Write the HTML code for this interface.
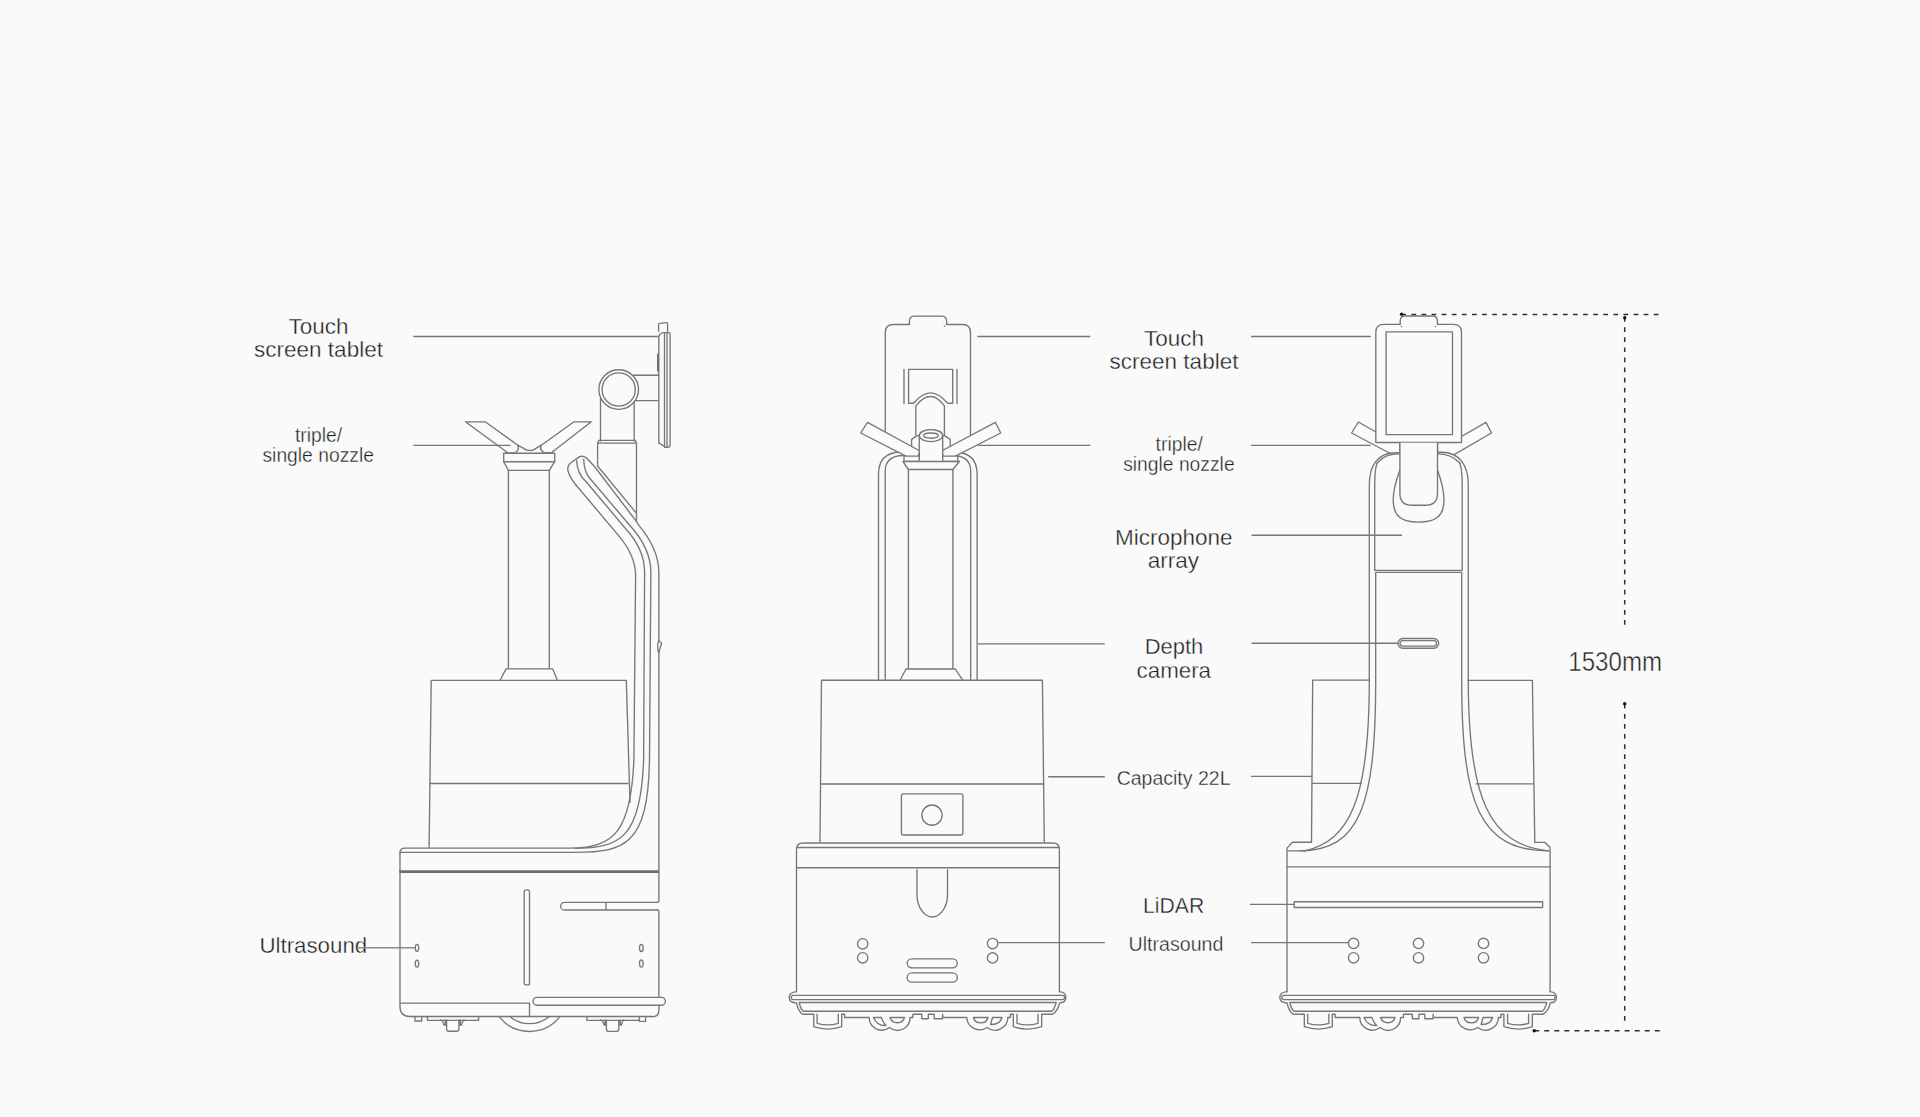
<!DOCTYPE html>
<html><head><meta charset="utf-8">
<style>
html,body{margin:0;padding:0;background:#fafafa;width:1920px;height:1117px;overflow:hidden}
svg{display:block;position:absolute;left:0;top:0}
.s{fill:none;stroke:#777;stroke-width:1.35;stroke-linejoin:round;stroke-linecap:round}
.f{fill:#fafafa;stroke:#777;stroke-width:1.35;stroke-linejoin:round}
.ld{fill:none;stroke:#777;stroke-width:1.35}
.t{font-family:"Liberation Sans",sans-serif;fill:#1e1e1e;text-anchor:middle;stroke:#fafafa;stroke-width:0.35}
.dash{fill:none;stroke:#2f2f2f;stroke-width:1.5}
</style></head>
<body>
<svg width="1920" height="1117" viewBox="0 0 1920 1117">
<!-- LABELS -->
<g class="t">
<text x="318.5" y="334" font-size="22.5">Touch</text>
<text x="318.5" y="357.3" font-size="22.5">screen tablet</text>
<text x="318.5" y="441.8" font-size="19.3">triple/</text>
<text x="318.2" y="461.9" font-size="19.3">single nozzle</text>
<text x="313.3" y="953.3" font-size="22.3">Ultrasound</text>

<text x="1174" y="346.2" font-size="22.5">Touch</text>
<text x="1174" y="369.4" font-size="22.5">screen tablet</text>
<text x="1179.2" y="450.6" font-size="19.3">triple/</text>
<text x="1178.9" y="471.1" font-size="19.3">single nozzle</text>
<text x="1173.8" y="544.6" font-size="22.5">Microphone</text>
<text x="1173.5" y="567.7" font-size="22.5">array</text>
<text x="1174" y="654.2" font-size="22">Depth</text>
<text x="1173.8" y="677.6" font-size="22.3">camera</text>
<text x="1173.6" y="785.1" font-size="19.5">Capacity 22L</text>
<text x="1173.7" y="913.1" font-size="21.2">LiDAR</text>
<text x="1176" y="950.5" font-size="19.6">Ultrasound</text>
</g>
<text x="1568.3" y="670.9" font-size="28.2" style="font-family:'Liberation Sans',sans-serif;fill:#222;stroke:#fafafa;stroke-width:0.5" transform="translate(1568.3 0) scale(0.855 1) translate(-1568.3 0)">1530mm</text>

<!-- DIMENSION -->
<g class="dash">
<path d="M1401.3 314.4H1658.5" stroke-dasharray="4.7 5.4"/>
<path d="M1624.7 317.1V625" stroke-dasharray="4.7 5.4"/>
<path d="M1624.7 703.9V1021" stroke-dasharray="4.7 5.37"/>
<path d="M1534.2 1030.8H1660" stroke-dasharray="5 5.05"/>
</g>
<g fill="#111">
<circle cx="1401.6" cy="314.3" r="1.7"/>
<circle cx="1624.7" cy="317.7" r="1.7"/>
<circle cx="1624.7" cy="703.7" r="1.7"/>
<circle cx="1534.2" cy="1030.8" r="1.7"/>
</g>

<!-- ROBOTS inserted below -->
<g id="left">
<!-- tank -->
<path class="s" d="M429.1 847.7L431.2 680.3H626.3L630 802.4"/>
<path class="s" d="M430 783.5H628"/>
<!-- tube & collar -->
<path class="s" d="M508.4 470.4V668.9M549.3 470.4V668.9M506 668.9H552.7M506 668.9L500.1 680.3M552.7 668.9L557.4 680.3"/>
<!-- nozzle arms -->
<path class="f" d="M465.4 421.8H485.2L517.8 445.2Q520 450 514.4 453L508.4 453.2Z"/>
<path class="f" d="M591.3 421.8H574L541.3 445.2Q539 450 544.5 452.8L552 452.3Z"/>
<path class="s" d="M517.8 445.2L527.2 450.3H532.6L541.3 445.2"/>
<path class="f" d="M503.7 453.2H554.7V461.7L549.3 470.4H508.4L503.7 461.7Z"/>
<path class="s" d="M503.7 461.7H554.7"/>
<!-- post -->
<path class="s" d="M597.6 443.1V466M636.5 443.1V521M597.6 466L636.5 513.4"/>
<path class="s" d="M597.6 443.1H636.5M599 440.3H635.2M597.6 443.1L599 440.3M636.5 443.1L635.2 440.3"/>
<path class="s" d="M600.5 441V398.5M634.2 441V398.5"/>
<!-- arm to tablet -->
<path class="s" d="M633 375.2H658.8M632 400.6H658.8"/>
<circle class="f" cx="618.7" cy="389.5" r="19.8"/>
<circle class="s" cx="618.7" cy="389.5" r="16.6"/>
<!-- tablet -->
<path class="s" d="M658.6 331.3V324.2Q658.6 323.5 660 323.4L666.4 322.7Q667.6 322.6 667.6 324V331.3"/>
<path class="f" d="M658.8 337Q659.5 333 663.2 332.6H669Q670.1 332.6 670.1 334.2V444.4Q670.1 447.3 667.5 447.3H665.7L658.8 442.9Z"/>
<path class="s" d="M664.5 332.8V447.2M667 332.8V447.2"/>
<path d="M657 354Q657 353.6 657.6 353.6H659V371.6H657.6Q657 371.6 657 371.2Z" fill="#707070"/>
<!-- hose -->
<path class="s" d="M576 485Q570 478 568 471Q567 466 570.5 463L579.7 456.6Q583 455.6 586.3 457.8"/>
<path class="s" d="M576 485L618.6 535.6Q635.6 555.6 635.6 575.6L633.9 760C631 830 615 848.1 570 848.1H405Q400 848.1 400 852.9"/>
<path class="s" d="M576.6 460.6Q577.5 474 585.5 481L625 528Q644.6 549.2 644.6 572L643.6 760C641 838 620 848.3 575 848.3"/>
<path class="s" d="M583.7 459.2Q584 471 589.5 478L629 524.5Q650.85 548.1 650.85 572L649.5 760C648 845 625 852.4 575 852.4H400"/>
<path class="s" d="M586.3 457.8L594.9 467L636.5 521.5L638.5 524.9Q658.9 549 658.9 573V900.8Q658.9 902.3 657.4 902.3"/>
<path class="s" d="M657.4 910Q658.9 910 658.9 911.5V1010.4Q658.9 1016.7 652 1016.7"/>
<path class="f" d="M658.6 640.7L661.6 643.2L658.6 652.9Q656.7 646 658.6 640.7Z"/>
<!-- base -->
<path class="s" d="M400 852.9V1006.5Q400 1016.5 410 1016.5H652"/>
<path d="M399.3 871.6H658.9" stroke="#6e6e6e" stroke-width="2.8"/>
<path class="s" d="M657.4 902.3H564.5A3.85 3.85 0 0 0 564.5 910H657.4M606 902.3V910"/>
<rect class="s" x="524.2" y="889.8" width="5.3" height="95.1" rx="2"/>
<ellipse class="s" cx="417" cy="947.8" rx="1.7" ry="3.5"/>
<ellipse class="s" cx="417" cy="963.6" rx="1.7" ry="3.5"/>
<ellipse class="s" cx="641.3" cy="947.9" rx="1.8" ry="3.6"/>
<ellipse class="s" cx="641.3" cy="963.5" rx="1.8" ry="3.6"/>
<path class="s" d="M400 1003.1H529.5V1016.5"/>
<rect class="f" x="533.1" y="997.4" width="132.3" height="7.8" rx="3.9"/>
<!-- wheel -->
<path class="s" d="M499.1 1016.7A38.7 38.7 0 0 0 559.9 1016.7M509.9 1016.7A31 31 0 0 0 549.1 1016.7"/>
<!-- feet -->
<path class="s" d="M415 1017V1021H421.7V1017M427.4 1017V1020.3H478.6V1017"/>
<path class="s" d="M440.6 1019.8Q443 1020.5 443.9 1025H446.6V1029Q446.6 1031.2 449 1031.2H456.5Q458.9 1031.2 458.9 1029V1025H461.6Q462.5 1020.5 464 1019.8M445.2 1020V1025M446.6 1020V1025M458.9 1020V1025M460.3 1020V1025"/>
<path class="s" d="M586.8 1017.2V1020.3H639.4V1017.2M639.4 1017.2V1021.4H645.6V1017.2"/>
<path class="s" d="M600.6 1019.9Q603 1020.5 604 1025H606.4V1029Q606.4 1031.4 608.8 1031.4H616.4Q618.8 1031.4 618.8 1029V1025H621.4Q622.4 1020.5 624 1019.9M605 1020.2V1025M606.4 1020.2V1025M618.8 1020.2V1025M620.2 1020.2V1025"/>
</g>
<g id="mid">
<!-- tablet -->
<path class="s" d="M885.3 440V332.5Q885.3 324.5 893.3 324.5H909.4V321.1Q909.4 316.1 914.4 316.1H941.6Q946.6 316.1 946.6 321.1V324.5H962.5Q970.5 324.5 970.5 332.5V440"/>
<circle cx="944.4" cy="326" r="0.8" fill="#777"/>
<path class="s" d="M908.6 403.2V369.4H952.7V403.2H947.4Q930.7 382.5 913.6 403.2Z"/>
<path class="s" d="M904 369.4V403.5M957 369.4V403.5" stroke-width="1.6"/>
<path class="s" d="M915.8 434.8V405.9Q930.7 387 944.4 405.9V434.8"/>
<!-- body loops -->
<path class="s" d="M878.5 680.2V474.4Q878.5 453 900 452M885.2 680.2V471.2Q885.2 456 903 455.5"/>
<path class="s" d="M977.1 680.2V474.4Q977.1 453 955.6 452M970.7 680.2V471.2Q970.7 456 952.9 455.5"/>
<!-- tube -->
<path class="s" d="M908.4 469.5V669M952.9 469.5V669M906 669H955.3M906 669L900 680.2M955.3 669L962.7 680.2"/>
<!-- arms -->
<path class="f" d="M911.6 460.7V439.4L917 435.6H944.4L950.2 439.4V460.7Z"/>
<path class="f" d="M867.5 422.3L860.7 433L916.2 461.4L920 451Z"/>
<path class="f" d="M995.4 422.3L1000.7 433L945.1 461.4L941.5 451Z"/>
<!-- small boxes & collar -->
<path class="f" d="M904 456.1H919.6V461.5H904Z"/>
<path class="f" d="M942.2 456.1H957.8V461.5H942.2Z"/>
<path class="f" d="M903 461.5H959.4L952.9 469.5H908.4Z"/>
<!-- head -->
<path class="f" d="M919.3 460.7V435.6A11.7 6 0 0 1 942.7 435.6V460.7"/>
<ellipse class="f" cx="931" cy="435.6" rx="11.7" ry="6"/>
<ellipse class="s" cx="931" cy="435.6" rx="7.3" ry="2.6"/>
<!-- tank -->
<path class="s" d="M820 842L821.5 680.2H1042.4L1044.3 842"/>
<path class="s" d="M820.7 784H1043.4"/>
<rect class="s" x="901.4" y="793.8" width="61.5" height="41.2" rx="2"/>
<circle class="s" cx="932" cy="815.1" r="10.1"/>
<!-- base -->
<path class="s" d="M796.5 991.7V849.5Q796.5 843 803 843H1052.9Q1059.4 843 1059.4 849.5V991.7"/>
<path class="s" d="M796.5 847.5H1059.4M796.5 867.7H1059.4"/>
<path class="s" d="M917 869.6V895C917 908 925 917 932.25 917C939.5 917 947.5 908 947.5 895V869.6"/>
<circle class="s" cx="862.7" cy="943.8" r="5.2"/>
<circle class="s" cx="862.7" cy="957.8" r="5.2"/>
<circle class="s" cx="992.6" cy="943.5" r="5.2"/>
<circle class="s" cx="992.6" cy="957.9" r="5.2"/>
<rect class="s" x="907.2" y="958.8" width="50.1" height="9" rx="4.5"/>
<rect class="s" x="907.2" y="972.9" width="50.1" height="9.2" rx="4.6"/>
<g id="btm">
<path class="s" d="M796.5 991.7Q789.2 992.5 789.2 997.3Q789.2 1002.9 796.5 1002.9Q798 1011 802.5 1014.2H813.75V1026.7Q827.7 1031.5 841.7 1026.7V1014.2H844.6V1017.5H869.2"/>
<path class="s" d="M1059.6 991.7Q1065.8 992.5 1065.8 997.3Q1065.8 1002.9 1059.6 1002.9Q1058 1011 1052.5 1014.2H1041.7V1026.7Q1027.7 1031.5 1013.3 1026.7V1014.2H1010.4V1017.5H1007.9"/>
<path class="s" d="M793.3 995.4H1062.5A2.1 2.1 0 0 1 1062.5 999.6H793.3A2.1 2.1 0 0 1 793.3 995.4Z"/>
<path class="s" d="M799.2 1002.5H1056.25Q1054 1010 1051.7 1011.25H803.3Q800.5 1009 799.2 1002.5Z"/>
<path class="s" d="M817.1 1014.2V1023.3Q827.7 1026.5 838.3 1023.3V1014.2"/>
<path class="s" d="M1017 1014.2V1023.3Q1027.5 1026.5 1038 1023.3V1014.2"/>
<path class="s" d="M869.2 1017.5A12.6 12.6 0 0 0 889.5 1027.5A12.6 12.6 0 0 0 910 1017.5H912.9V1014.2H921.7V1018.75H928.3V1014.2H934.2V1018.75H942.5V1014.2L942.9 1017.5H966.7A13 13 0 0 0 987 1027.5A13 13 0 0 0 1007.9 1017.5"/>
<path class="s" d="M873.5 1017.5Q877 1026 886 1025.5Q882 1021 881.5 1017.5Z"/>
<path class="s" d="M890 1017.5A7.5 7 0 0 0 904.5 1017.5Z"/>
<path class="s" d="M973.4 1017.5A7.5 7 0 0 0 988 1017.5Z"/>
<path class="s" d="M992.5 1017.5Q991 1023 990.5 1024.5Q1000 1025 1002 1017.5Z"/>
</g>
</g>
<g id="right">
<!-- nozzle arms (behind tablet) -->
<path class="f" d="M1358.3 422L1351.6 433L1395 456H1399.9V440H1390Z"/>
<path class="f" d="M1486 422.4L1491.5 433L1445 459.9H1437.5V440H1455.3Z"/>
<path d="M1369.3 700V485C1369.3 465 1378 452.7 1395.8 452.7H1441.5C1459.3 452.7 1468.3 465 1468.3 485V700Z" fill="#fafafa"/>
<!-- body outer -->
<path class="s" d="M1369.3 680V485C1369.3 465 1378 452.7 1395.8 452.7H1399.9M1468.3 680V485C1468.3 465 1459.3 452.2 1441.5 452.2H1437.5"/>
<!-- inner upper rect -->
<path class="s" d="M1374.7 570.4V485C1374.7 472 1375.5 466 1377.6 462.5L1376.6 463.2M1377.6 462.5C1384 456 1390 453.8 1399.9 453.8M1462.2 570.4V485C1462.2 472 1461.4 466 1459.3 462.5L1460.3 463.2M1459.3 462.5C1453 456 1447 453.8 1437.5 453.8M1374.7 570.4H1462.2"/>
<!-- tablet -->
<path class="f" d="M1375.8 442.5V332.4Q1375.8 324.4 1383.8 324.4H1400.2V321Q1400.2 316 1405.2 316H1432.4Q1437.4 316 1437.4 321V324.4H1453.5Q1461.5 324.4 1461.5 332.4V442.5Z"/>
<rect class="s" x="1386.1" y="331.8" width="66.4" height="102.9"/>
<circle cx="1401.6" cy="326.5" r="0.7" fill="#777"/>
<circle cx="1435.3" cy="326.5" r="0.7" fill="#777"/>
<!-- neck & U -->
<path class="s" d="M1399.9 470C1395.5 482 1393.2 492 1393.2 500C1393.2 516 1401 522.1 1418.6 522.1C1436 522.1 1444 516 1444 500C1444 492 1441.8 482 1437.5 470"/>
<path class="f" d="M1399.9 442.8V493.2Q1399.9 505.2 1411.9 505.2H1425.5Q1437.5 505.2 1437.5 493.2V442.8"/>
<!-- lower column -->
<path class="s" d="M1375.7 572.4H1461.7M1375.7 572.4V680C1375.7 805 1360 850.8 1300 850.8M1461.7 572.4V680C1461.7 805 1480 850.8 1548.6 850.8"/>
<path class="s" d="M1369.3 680C1369.3 800 1350 840 1305 850.8M1468.3 680C1468.3 800 1490 845 1548.6 850.8"/>
<!-- depth camera -->
<rect class="s" x="1397.9" y="638.5" width="40.8" height="9.7" rx="4.85"/>
<rect class="s" x="1400" y="640.6" width="36.6" height="5.5" rx="2.75"/>
<!-- tank sides -->
<path class="s" d="M1311.5 842.2L1312.7 680.1H1369.3M1311.9 783.4H1361.3"/>
<path class="s" d="M1534.8 842.3L1532.4 680.3H1468.3M1476.2 783.8H1533.8"/>
<!-- base -->
<path class="s" d="M1311.5 842.2H1292.4L1287 848.1V991.7M1287 850.9H1305"/>
<path class="s" d="M1534.8 842.3H1544.6L1550.1 847.3V991.7"/>
<path class="s" d="M1287 866.9H1550.1"/>
<path class="s" d="M1294.2 901.7H1542.6V907.5H1294.2Z"/>
<circle class="s" cx="1353.6" cy="943.4" r="5.2"/>
<circle class="s" cx="1353.6" cy="957.8" r="5.2"/>
<circle class="s" cx="1418.5" cy="943.4" r="5.2"/>
<circle class="s" cx="1418.5" cy="957.8" r="5.2"/>
<circle class="s" cx="1483.5" cy="943.4" r="5.2"/>
<circle class="s" cx="1483.5" cy="957.8" r="5.2"/>
<use href="#btm" transform="translate(490.6 0)"/>
</g>
<!-- LEADER LINES -->
<g class="ld">
<path d="M413.3 336.5H658.8M413.3 445.3H510.4"/>
<path d="M356.9 947.7H415" stroke="#8a8a8a"/>
<path d="M977.3 336.5H1090.3M978.2 445.3H1090.3M977.9 643.9H1104.8M1048.2 776.7H1104.8M998.5 942.6H1104.8"/>
<path d="M1251 336.5H1370.8M1251 445.4H1370.8M1251.5 535.2H1402M1251.5 643.2H1397.9M1251.1 776.4H1312M1250 904.4H1294.2M1251 942.6H1348.7"/>
</g>

</svg>
</body></html>
